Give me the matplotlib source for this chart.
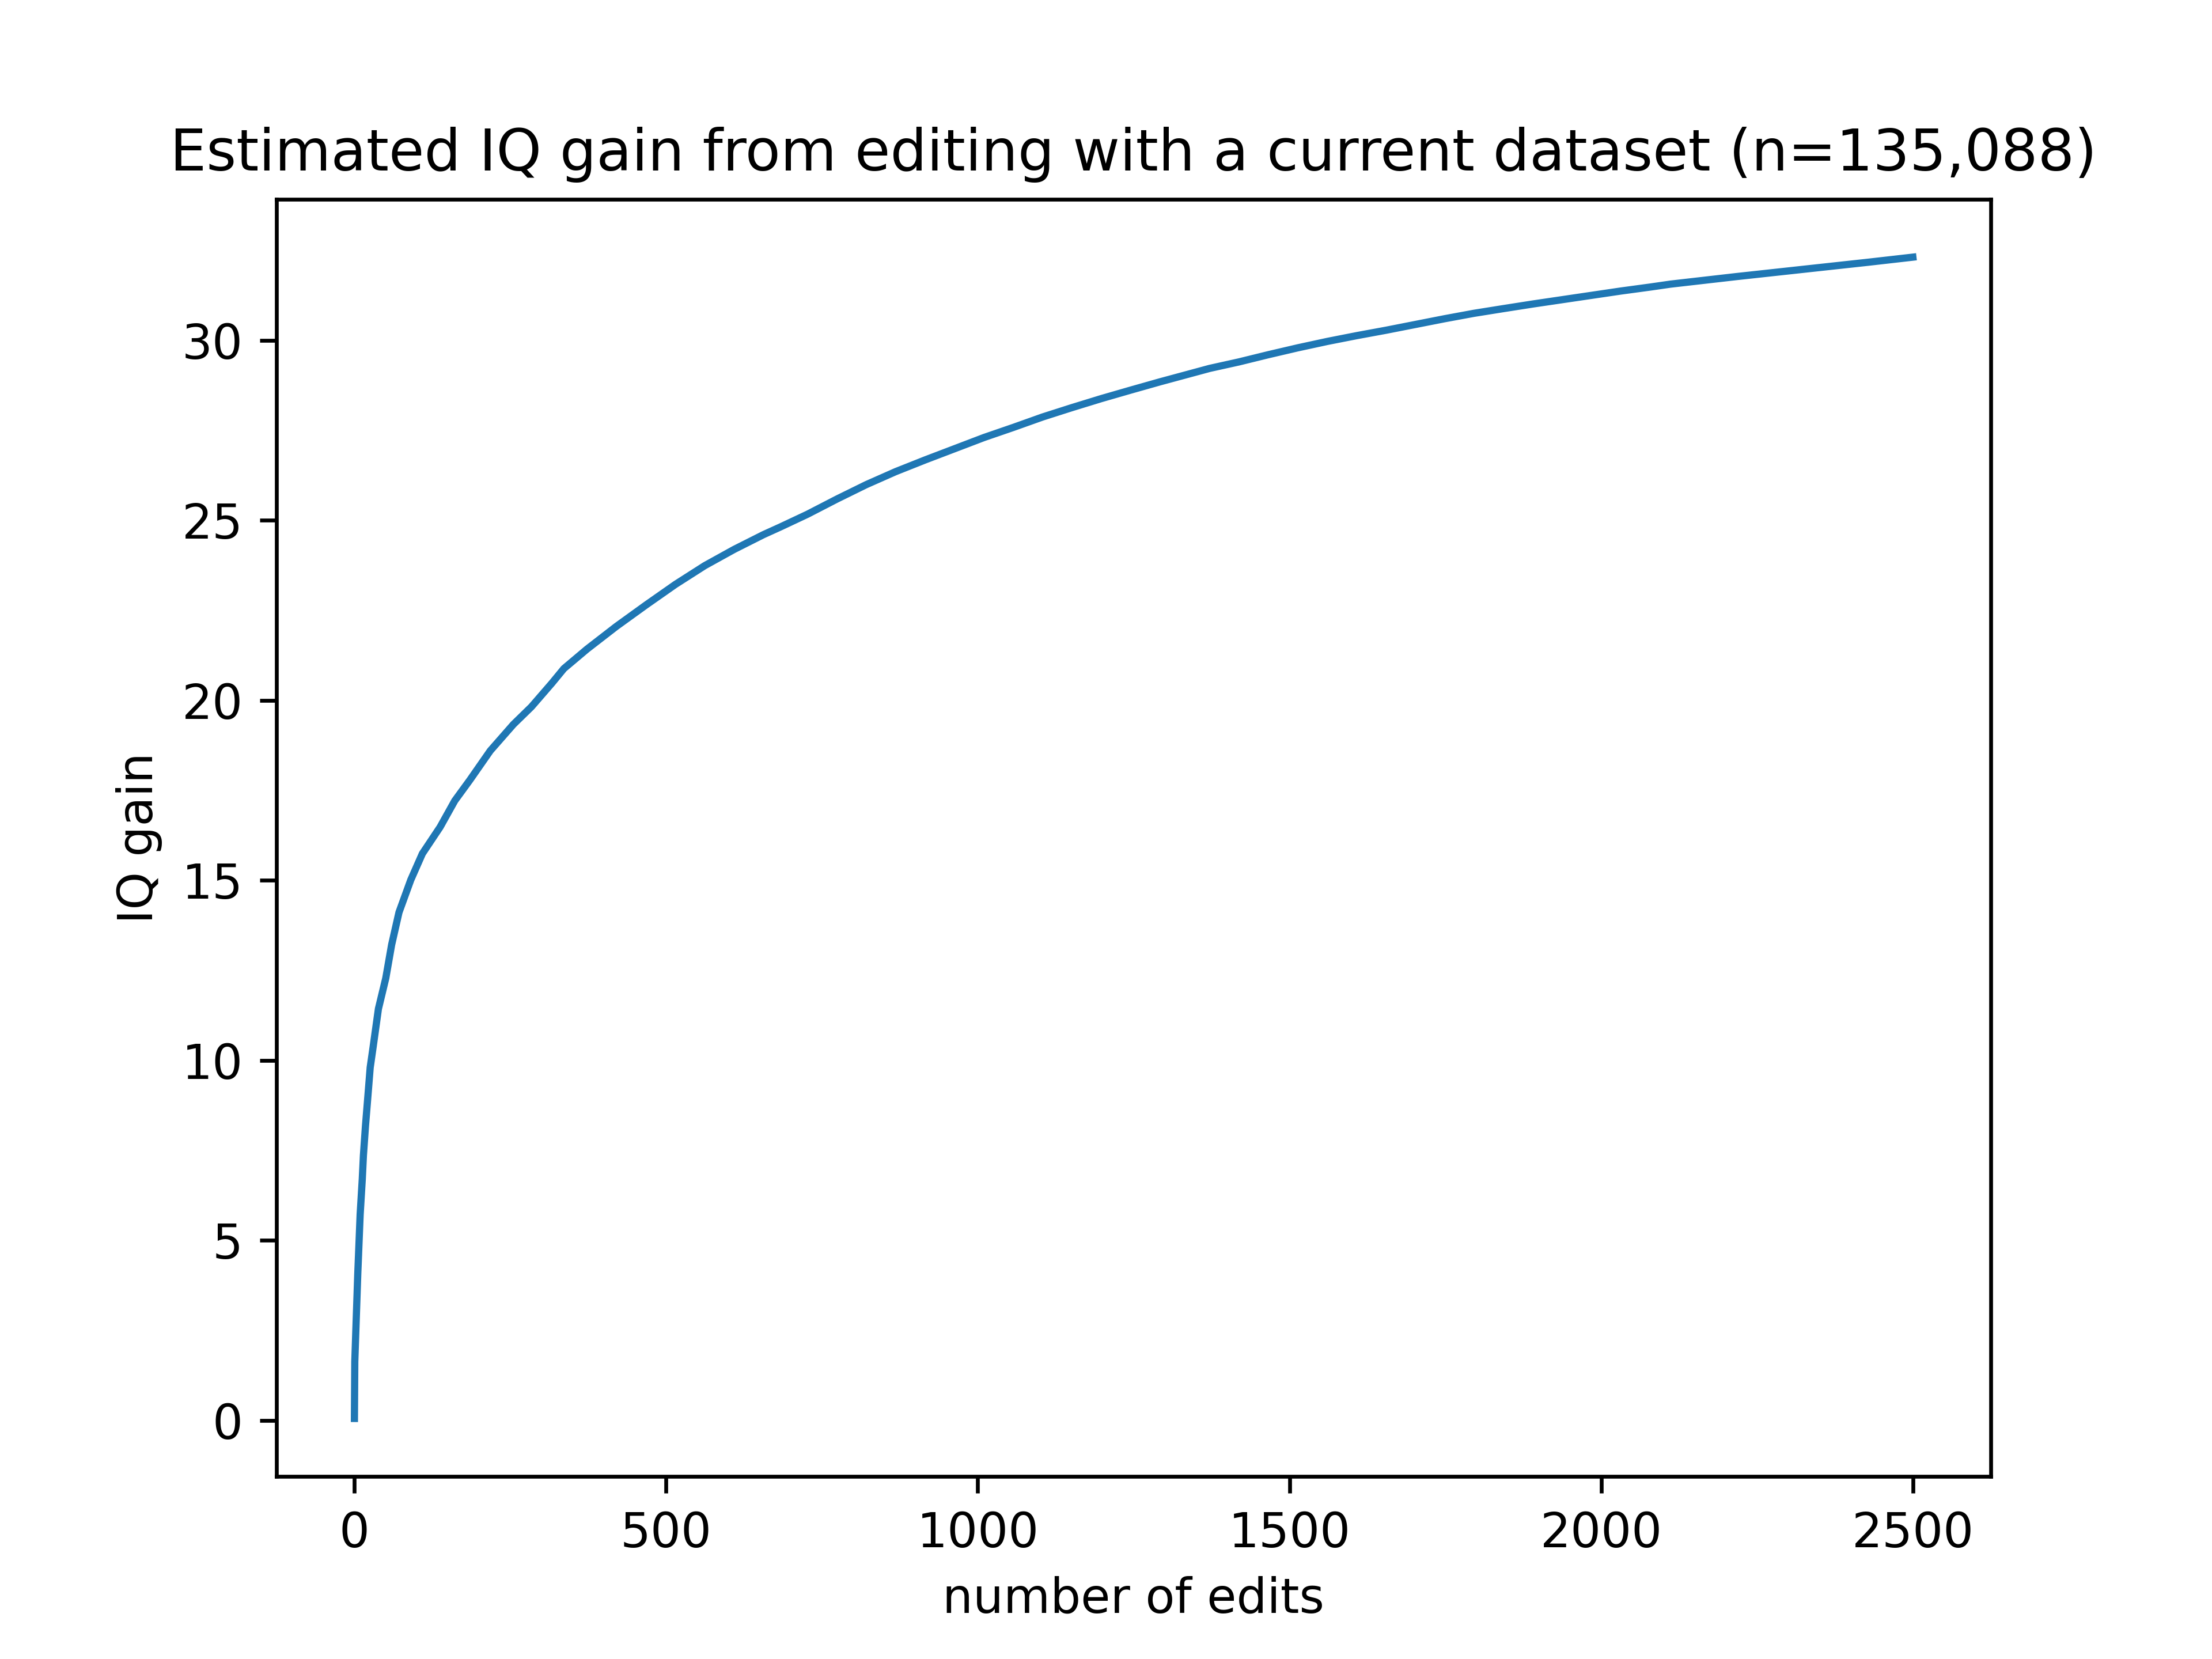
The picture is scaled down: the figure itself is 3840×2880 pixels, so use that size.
import matplotlib
matplotlib.use("Agg")
import matplotlib.pyplot as plt

# values
edits = [0, 0.6, 2.2, 5.4, 9.2, 12.6, 14.4, 17.7, 21.5, 25.3, 30, 38.5, 50.3,
         59.7, 71.5, 90.4, 109, 137.5, 161, 185, 218, 255, 284, 317, 336, 373,
         420, 468, 515, 562, 609, 656, 684, 727, 774, 821, 868, 916, 963, 1010,
         1057, 1104, 1151, 1198, 1246, 1293, 1340, 1372, 1419, 1466, 1513,
         1561, 1608, 1655, 1702, 1749, 1796, 1843, 1891, 1938, 1985, 2032,
         2079, 2111, 2217, 2323, 2429, 2500]
iq_gain = [0.05, 1.63, 2.45, 4.08, 5.72, 6.70, 7.35, 8.17, 8.98, 9.80, 10.37,
           11.43, 12.28, 13.21, 14.11, 15.01, 15.74, 16.48, 17.21, 17.78,
           18.60, 19.33, 19.82, 20.48, 20.88, 21.42, 22.05, 22.65, 23.22,
           23.74, 24.19, 24.60, 24.82, 25.17, 25.59, 25.99, 26.35, 26.68,
           26.99, 27.30, 27.58, 27.87, 28.13, 28.38, 28.62, 28.85, 29.07,
           29.22, 29.40, 29.60, 29.79, 29.97, 30.13, 30.28, 30.44, 30.60,
           30.75, 30.88, 31.01, 31.13, 31.25, 31.37, 31.48, 31.56, 31.77,
           31.97, 32.17, 32.31]

title = "Estimated IQ gain from editing with a current dataset (n=135,088)"

fig, ax = plt.subplots(figsize=(6.4, 4.8))
ax.plot(edits, iq_gain)
ax.set_title(title)
ax.set_xlabel("number of edits")
ax.set_ylabel("IQ gain")

fig.savefig("out.png", dpi=600)
